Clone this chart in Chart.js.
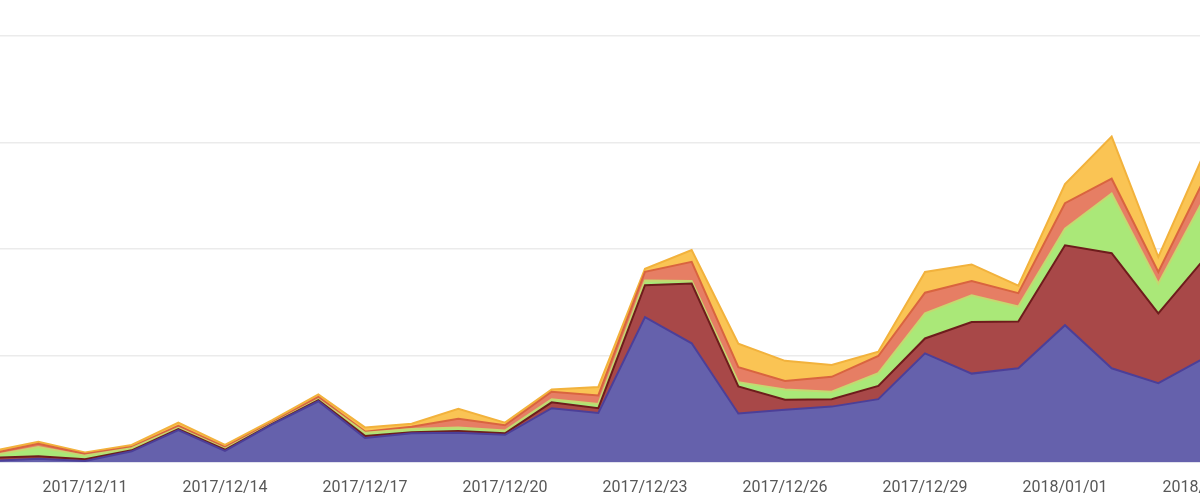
<!DOCTYPE html>
<html>
<head>
<meta charset="utf-8">
<script src="https://cdn.jsdelivr.net/npm/chart.js@4/dist/chart.umd.min.js"></script>
<style>
  html, body { margin: 0; padding: 0; background: #ffffff; }
  #wrap { width: 1200px; height: 495px; }
</style>
</head>
<body>
<div id="wrap"><canvas id="c" width="1200" height="495"></canvas></div>
<script>
// Dates (one point per day)
const dates = [
  '2017/12/09','2017/12/10','2017/12/11','2017/12/12','2017/12/13','2017/12/14','2017/12/15',
  '2017/12/16','2017/12/17','2017/12/18','2017/12/19','2017/12/20','2017/12/21','2017/12/22',
  '2017/12/23','2017/12/24','2017/12/25','2017/12/26','2017/12/27','2017/12/28','2017/12/29',
  '2017/12/30','2017/12/31','2018/01/01','2018/01/02','2018/01/03','2018/01/04'
];
// Which dates carry an axis label (every third day)
const tickDates = ['2017/12/11','2017/12/14','2017/12/17','2017/12/20','2017/12/23','2017/12/26','2017/12/29','2018/01/01','2018/01/04'];

// Stacked series values (bottom to top)
const seriesPurple = [1, 3, 1, 10, 30, 10.5, 35, 57, 22.5, 27, 27.5, 25.5, 50.5, 46, 136, 111.5, 45.5, 49, 52, 59, 102, 83, 88, 128.5, 88, 74, 98];
const seriesRed    = [3, 2.5, 1.5, 1, 1, 1, 0.5, 1, 2, 1, 1.5, 1.5, 5.5, 4.5, 30, 56, 25.5, 9.5, 7, 12.5, 14, 48.5, 44, 75, 108, 65.5, 93.5];
const seriesGreen  = [2, 8.5, 3.5, 2, 1, 1, 0.5, 1, 3, 3, 3.5, 2.5, 3, 4, 4.5, 2.5, 4, 9.5, 7, 12, 23.5, 25, 14, 15.5, 56, 28, 57.5];
const seriesSalmon = [2, 3, 1.5, 1, 2, 1.5, 1, 2, 1, 2, 8, 5, 7, 8, 8, 18, 14, 8, 14, 16, 19.5, 13.5, 12.5, 24, 14, 11, 18];
const seriesYellow = [2, 2, 1.5, 2, 3, 2, 2, 2.5, 4, 3, 9.5, 2.5, 2, 8, 3, 11, 22, 19, 11, 4, 19.5, 15.5, 7, 18, 39.5, 14, 24.5];

const toPoints = arr => arr.map((v, i) => ({ x: i, y: v }));
const tickIdx = tickDates.map(d => dates.indexOf(d));

function ds(label, values, fillColor, lineColor, fill) {
  return {
    label: label,
    data: toPoints(values),
    backgroundColor: fillColor,
    borderColor: lineColor,
    borderWidth: 2,
    pointRadius: 0,
    tension: 0,
    fill: fill
  };
}

new Chart(document.getElementById('c'), {
  type: 'line',
  data: {
    datasets: [
      ds('A', seriesPurple, '#6561ac', '#4c3f98', 'origin'),
      ds('B', seriesRed,    '#a84848', '#6e1c1c', '-1'),
      ds('C', seriesGreen,  '#aae878', '#c5d870', '-1'),
      ds('D', seriesSalmon, '#e67e64', '#d9643f', '-1'),
      ds('E', seriesYellow, '#fac454', '#f2b23c', '-1')
    ]
  },
  options: {
    responsive: false,
    animation: false,
    devicePixelRatio: 1,
    layout: { padding: { top: 36, left: 0, right: 0, bottom: 0 } },
    plugins: { legend: { display: false }, tooltip: { enabled: false } },
    scales: {
      x: {
        type: 'linear',
        min: 0.1786,
        max: 25.893,
        grid: { display: false },
        border: { display: true, color: '#cfcfe6', width: 1.5 },
        ticks: {
          autoSkip: false,
          maxRotation: 0,
          padding: 8,
          color: '#585858',
          font: { family: 'Roboto', size: 16 },
          callback: v => dates[v]
        },
        afterBuildTicks: axis => { axis.ticks = tickIdx.map(v => ({ value: v })); },
        afterFit: axis => { axis.height = 33; axis.paddingLeft = 0; axis.paddingRight = 0; }
      },
      y: {
        stacked: true,
        min: 0,
        max: 400,
        grid: { color: '#ebebeb', lineWidth: 1.5, drawTicks: false },
        border: { display: false },
        ticks: { display: false, stepSize: 100 },
        afterFit: axis => { axis.width = 0; }
      }
    }
  }
});
</script>
</body>
</html>
